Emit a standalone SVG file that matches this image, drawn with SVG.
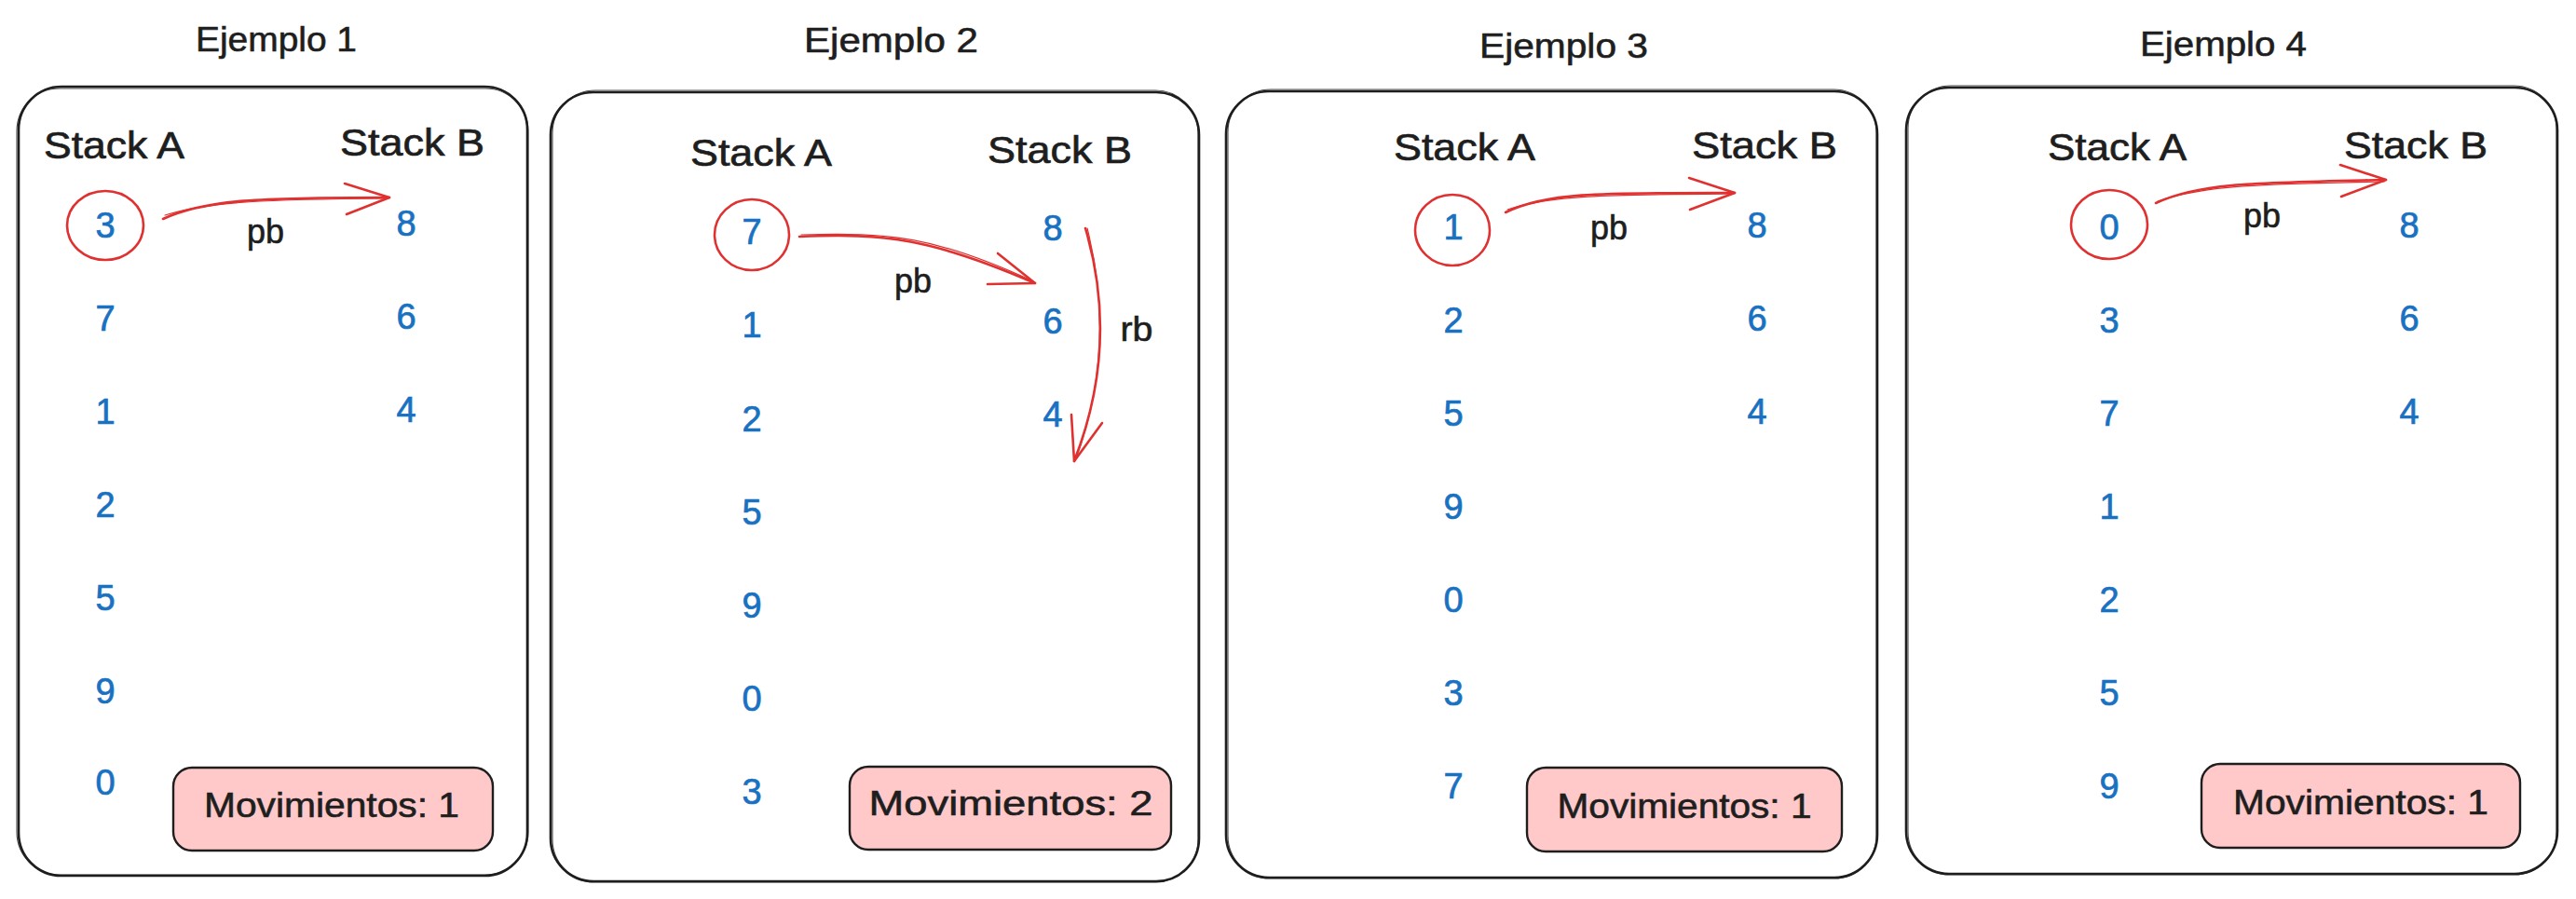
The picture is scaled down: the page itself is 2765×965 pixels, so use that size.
<svg xmlns="http://www.w3.org/2000/svg" width="2765" height="965" viewBox="0 0 2765 965">
<style>
text{font-family:"Liberation Sans","DejaVu Sans",sans-serif}
.frame{fill:none;stroke:#1e1e1e;stroke-width:2.6}
.frame2{fill:none;stroke:#1e1e1e;stroke-width:1.1;opacity:.8}
.title{font-size:37px;fill:#1e1e1e;stroke:#1e1e1e;stroke-width:0.6}
.lbl{font-size:41px;fill:#1e1e1e;stroke:#1e1e1e;stroke-width:0.7}
.num{font-size:38px;fill:#1971c2;stroke:#1971c2;stroke-width:0.7;text-anchor:middle}
.op{font-size:36px;fill:#1e1e1e;stroke:#1e1e1e;stroke-width:0.6;text-anchor:middle}
.movbox{fill:#ffc9c9;stroke:#1e1e1e;stroke-width:2.4}
.movtxt{font-size:37px;fill:#1e1e1e;stroke:#1e1e1e;stroke-width:0.6;text-anchor:middle}
.sel{fill:none;stroke:#e03131;stroke-width:2.6}
.arr{fill:none;stroke:#e03131;stroke-width:2.6;stroke-linecap:round;stroke-linejoin:round}
.arr2{fill:none;stroke:#e03131;stroke-width:1.2;stroke-linecap:round}
</style>
<rect width="2765" height="965" fill="#ffffff"/>

<g id="ejemplo1">
  <text class="title" x="210" y="55" textLength="173" lengthAdjust="spacingAndGlyphs">Ejemplo 1</text>
  <rect class="frame" x="20" y="93" width="546" height="847" rx="46"/>
  <rect class="frame2" x="18" y="95" width="549" height="844" rx="46"/>
  <text class="lbl" x="47" y="170" textLength="151" lengthAdjust="spacingAndGlyphs">Stack A</text>
  <text class="lbl" x="365" y="167" textLength="155" lengthAdjust="spacingAndGlyphs">Stack B</text>
  <g id="e1-stackA">
    <text class="num" x="113" y="255">3</text>
    <text class="num" x="113" y="355">7</text>
    <text class="num" x="113" y="455">1</text>
    <text class="num" x="113" y="555">2</text>
    <text class="num" x="113" y="655">5</text>
    <text class="num" x="113" y="755">9</text>
    <text class="num" x="113" y="853">0</text>
  </g>
  <g id="e1-stackB">
    <text class="num" x="436" y="253">8</text>
    <text class="num" x="436" y="353">6</text>
    <text class="num" x="436" y="453">4</text>
  </g>
  <ellipse class="sel" cx="113" cy="242" rx="41" ry="37"/>
  <g id="e1-mov">
    <rect class="movbox" x="186" y="824" width="343" height="89" rx="20"/>
    <text class="movtxt" x="356" y="877" textLength="274" lengthAdjust="spacingAndGlyphs">Movimientos: 1</text>
  </g>
</g>

<g id="ejemplo2">
  <text class="title" x="863" y="56" textLength="187" lengthAdjust="spacingAndGlyphs">Ejemplo 2</text>
  <rect class="frame" x="591" y="99" width="696" height="847" rx="46"/>
  <rect class="frame2" x="593" y="97" width="693" height="850" rx="46"/>
  <text class="lbl" x="741" y="178" textLength="152" lengthAdjust="spacingAndGlyphs">Stack A</text>
  <text class="lbl" x="1060" y="175" textLength="155" lengthAdjust="spacingAndGlyphs">Stack B</text>
  <g id="e2-stackA">
    <text class="num" x="807" y="262">7</text>
    <text class="num" x="807" y="362">1</text>
    <text class="num" x="807" y="463">2</text>
    <text class="num" x="807" y="563">5</text>
    <text class="num" x="807" y="663">9</text>
    <text class="num" x="807" y="763">0</text>
    <text class="num" x="807" y="863">3</text>
  </g>
  <g id="e2-stackB">
    <text class="num" x="1130" y="258">8</text>
    <text class="num" x="1130" y="358">6</text>
    <text class="num" x="1130" y="458">4</text>
  </g>
  <ellipse class="sel" cx="807" cy="252" rx="40" ry="38"/>
  <g id="e2-mov">
    <rect class="movbox" x="912" y="823" width="345" height="89" rx="20"/>
    <text class="movtxt" x="1085" y="875" textLength="305" lengthAdjust="spacingAndGlyphs">Movimientos: 2</text>
  </g>
</g>

<g id="ejemplo3">
  <text class="title" x="1588" y="62" textLength="181" lengthAdjust="spacingAndGlyphs">Ejemplo 3</text>
  <rect class="frame" x="1316" y="98" width="699" height="844" rx="46"/>
  <rect class="frame2" x="1318" y="96" width="696" height="847" rx="46"/>
  <text class="lbl" x="1496" y="172" textLength="152" lengthAdjust="spacingAndGlyphs">Stack A</text>
  <text class="lbl" x="1816" y="170" textLength="156" lengthAdjust="spacingAndGlyphs">Stack B</text>
  <g id="e3-stackA">
    <text class="num" x="1560" y="257">1</text>
    <text class="num" x="1560" y="357">2</text>
    <text class="num" x="1560" y="457">5</text>
    <text class="num" x="1560" y="557">9</text>
    <text class="num" x="1560" y="657">0</text>
    <text class="num" x="1560" y="757">3</text>
    <text class="num" x="1560" y="857">7</text>
  </g>
  <g id="e3-stackB">
    <text class="num" x="1886" y="255">8</text>
    <text class="num" x="1886" y="355">6</text>
    <text class="num" x="1886" y="455">4</text>
  </g>
  <ellipse class="sel" cx="1559" cy="247" rx="40" ry="38"/>
  <g id="e3-mov">
    <rect class="movbox" x="1639" y="824" width="338" height="90" rx="20"/>
    <text class="movtxt" x="1808" y="878" textLength="273" lengthAdjust="spacingAndGlyphs">Movimientos: 1</text>
  </g>
</g>

<g id="ejemplo4">
  <text class="title" x="2297" y="60" textLength="179" lengthAdjust="spacingAndGlyphs">Ejemplo 4</text>
  <rect class="frame" x="2046" y="94" width="699" height="844" rx="46"/>
  <rect class="frame2" x="2048" y="92" width="696" height="847" rx="46"/>
  <text class="lbl" x="2198" y="172" textLength="149" lengthAdjust="spacingAndGlyphs">Stack A</text>
  <text class="lbl" x="2516" y="170" textLength="154" lengthAdjust="spacingAndGlyphs">Stack B</text>
  <g id="e4-stackA">
    <text class="num" x="2264" y="257">0</text>
    <text class="num" x="2264" y="357">3</text>
    <text class="num" x="2264" y="457">7</text>
    <text class="num" x="2264" y="557">1</text>
    <text class="num" x="2264" y="657">2</text>
    <text class="num" x="2264" y="757">5</text>
    <text class="num" x="2264" y="857">9</text>
  </g>
  <g id="e4-stackB">
    <text class="num" x="2586" y="255">8</text>
    <text class="num" x="2586" y="355">6</text>
    <text class="num" x="2586" y="455">4</text>
  </g>
  <ellipse class="sel" cx="2264" cy="241" rx="41" ry="37"/>
  <g id="e4-mov">
    <rect class="movbox" x="2363" y="820" width="342" height="90" rx="20"/>
    <text class="movtxt" x="2534" y="874" textLength="274" lengthAdjust="spacingAndGlyphs">Movimientos: 1</text>
  </g>
</g>

<g id="connectors">
  <g id="e1-pb">
    <path class="arr" d="M175,235 C220,214 280,212 418,212"/>
    <path class="arr2" d="M177,231 C225,216 290,214 416,213"/>
    <path class="arr" d="M370,197 L418,212 L372,230"/>
    <text class="op" x="285" y="261" textLength="40" lengthAdjust="spacingAndGlyphs">pb</text>
  </g>
  <g id="e2-pb">
    <path class="arr" d="M858,254 C950,250 1000,256 1111,304"/>
    <path class="arr2" d="M860,252 C955,249 1005,254 1109,302"/>
    <path class="arr" d="M1071,272 L1111,304 L1060,305"/>
    <text class="op" x="980" y="314" textLength="40" lengthAdjust="spacingAndGlyphs">pb</text>
  </g>
  <g id="e2-rb">
    <path class="arr" d="M1165,245 Q1202,370 1153,495"/>
    <path class="arr2" d="M1167,245 Q1199,372 1155,492"/>
    <path class="arr" d="M1150,445 L1153,495 L1183,454"/>
    <text class="op" x="1220" y="366" textLength="35" lengthAdjust="spacingAndGlyphs">rb</text>
  </g>
  <g id="e3-pb">
    <path class="arr" d="M1616,228 C1660,206 1720,207 1862,207"/>
    <path class="arr2" d="M1618,225 C1665,209 1730,209 1860,208"/>
    <path class="arr" d="M1813,191 L1862,207 L1814,225"/>
    <text class="op" x="1727" y="257" textLength="40" lengthAdjust="spacingAndGlyphs">pb</text>
  </g>
  <g id="e4-pb">
    <path class="arr" d="M2314,218 C2360,196 2420,196 2561,193"/>
    <path class="arr2" d="M2316,216 C2365,199 2430,197 2559,195"/>
    <path class="arr" d="M2512,177 L2561,193 L2513,211"/>
    <text class="op" x="2428" y="244" textLength="40" lengthAdjust="spacingAndGlyphs">pb</text>
  </g>
</g>
</svg>
